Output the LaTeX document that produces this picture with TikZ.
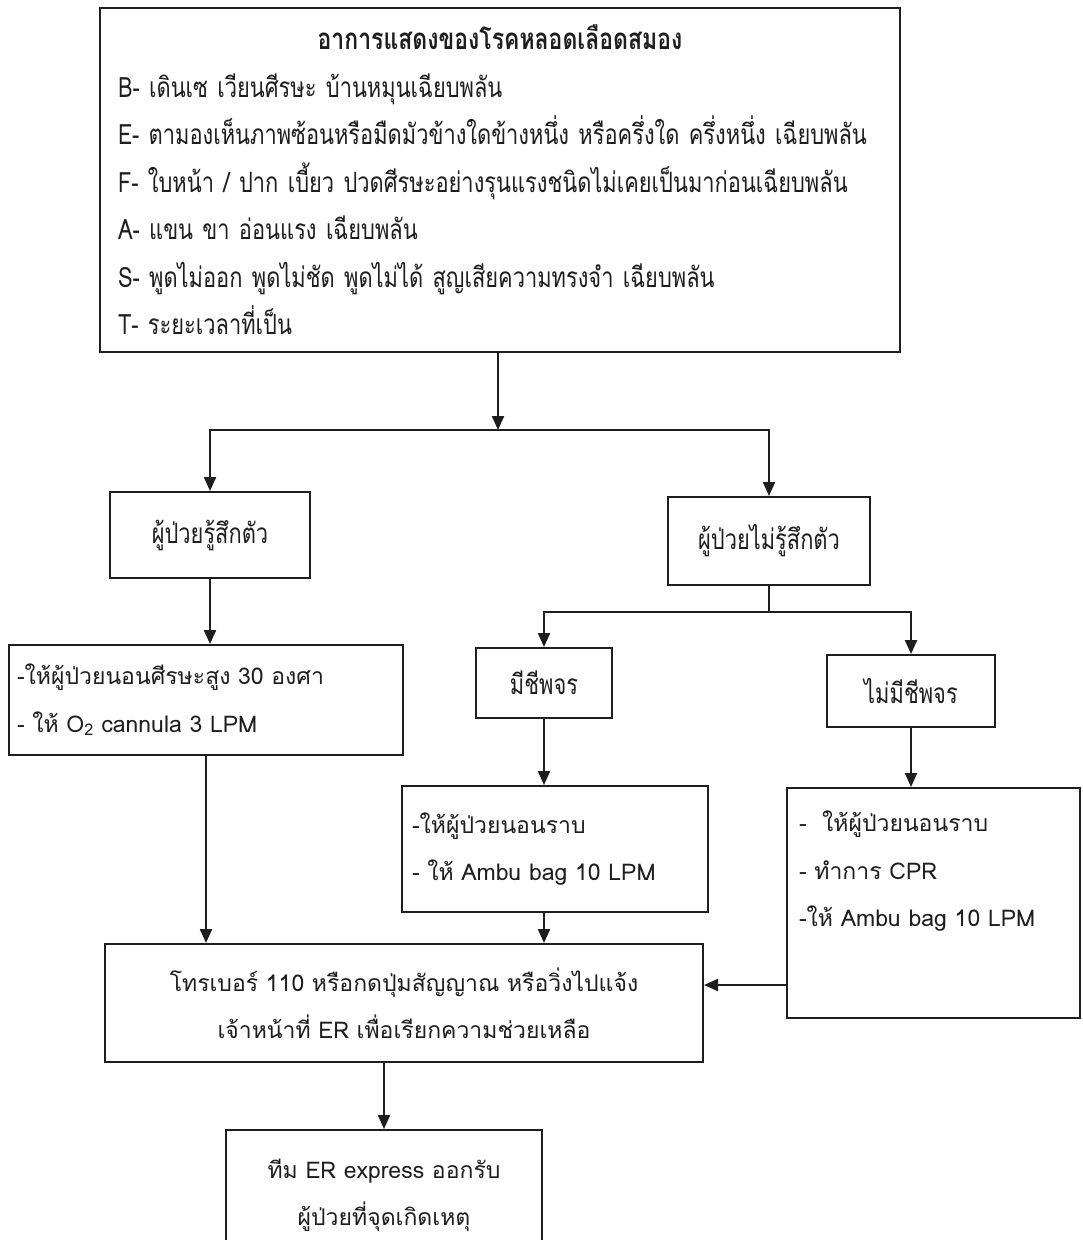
\documentclass[tikz,border=0pt]{standalone}
\usepackage{fontspec}
\usetikzlibrary{arrows.meta}
\newfontfamily\thc[Script=Thai,FakeStretch=0.78]{Loma}
\newfontfamily\thr[Script=Thai]{Loma}
\definecolor{ink}{HTML}{1E1E1E}
\tikzset{
  box/.style={draw=ink, line width=2pt, inner ysep=0pt, text=ink},
  arr/.style={draw=ink, line width=2.2pt, -{Triangle[length=14pt,width=12pt]}},
  ln/.style={draw=ink, line width=2.2pt},
  cond/.style={font=\thc\fontsize{28}{47.5}\selectfont},
  reg/.style={font=\thr\fontsize{23}{47.5}\selectfont}
}
\begin{document}
\begin{tikzpicture}[x=1pt,y=-1pt]
\clip (0,0) rectangle (1083,1240);
\fill[white] (0,0) rectangle (1083,1240);
% boxes
\node[box, cond, minimum width=800pt, minimum height=344pt, inner xsep=18pt, text width=764pt, align=left] (top) at (500,180)
 {\makebox[764pt]{\fontsize{29.5}{47.5}\selectfont\bfseries อาการแสดงของโรคหลอดเลือดสมอง}\\
  B- เดินเซ เวียนศีรษะ บ้านหมุนเฉียบพลัน\\
  E- ตามองเห็นภาพซ้อนหรือมืดมัวข้างใดข้างหนึ่ง หรือครึ่งใด ครึ่งหนึ่ง เฉียบพลัน\\
  F- ใบหน้า / ปาก เบี้ยว ปวดศีรษะอย่างรุนแรงชนิดไม่เคยเป็นมาก่อนเฉียบพลัน\\
  A- แขน ขา อ่อนแรง เฉียบพลัน\\
  S- พูดไม่ออก พูดไม่ชัด พูดไม่ได้ สูญเสียความทรงจำ เฉียบพลัน\\
  T- ระยะเวลาที่เป็น};
\node[box, cond, minimum width=200pt, minimum height=86pt] (cons) at (210,535) {ผู้ป่วยรู้สึกตัว};
\node[box, cond, minimum width=202pt, minimum height=88pt] (uncons) at (769,541) {ผู้ป่วยไม่รู้สึกตัว};
\node[box, reg, minimum width=394pt, minimum height=110pt, inner xsep=8pt, text width=378pt, align=left] (act1) at (206,700)
 {-ให้ผู้ป่วยนอนศีรษะสูง 30 องศา\\- ให้ O\textsubscript{2} cannula 3 LPM};
\node[box, cond, minimum width=136pt, minimum height=70pt] (pulse) at (544,683) {มีชีพจร};
\node[box, cond, minimum width=168pt, minimum height=72pt] (nopulse) at (911,691) {ไม่มีชีพจร};
\node[box, reg, minimum width=306pt, minimum height=126pt, inner xsep=10pt, text width=286pt, align=left] (act2) at (555,849)
 {-ให้ผู้ป่วยนอนราบ\\- ให้ Ambu bag 10 LPM};
\node[box, reg, minimum width=293pt, minimum height=230pt, inner xsep=12pt] (act3) at (933.5,903)
 {\parbox[c][184pt][t]{269pt}{\raggedright -~~ให้ผู้ป่วยนอนราบ\\- ทำการ CPR\\-ให้ Ambu bag 10 LPM}};
\node[box, reg, minimum width=598pt, minimum height=118pt, text width=578pt, align=center] (call) at (404,1003)
 {โทรเบอร์ 110 หรือกดปุ่มสัญญาณ หรือวิ่งไปแจ้ง\\เจ้าหน้าที่ ER เพื่อเรียกความช่วยเหลือ};
\node[box, reg, minimum width=316pt, minimum height=130pt, text width=296pt, align=center] (team) at (384,1195)
 {ทีม ER express ออกรับ\\ผู้ป่วยที่จุดเกิดเหตุ};
% junctions
\coordinate (j1) at (498,430);
\coordinate (j2) at (769,612);
\coordinate (m) at (745,985);
% connectors
\draw[arr] (top.south -| j1) -- (j1);
\draw[arr] (j1) -| (cons.north);
\draw[arr] (j1) -| (uncons.north);
\draw[arr] (cons.south) -- (cons.south |- act1.north);
\draw[ln] (uncons.south) -- (j2);
\draw[arr] (j2) -| (pulse.north);
\draw[arr] (j2) -| (nopulse.north);
\draw[arr] (pulse.south) -- (pulse.south |- act2.north);
\draw[arr] (nopulse.south) -- (nopulse.south |- act3.north);
\draw[arr] (pulse.south |- act2.south) -- (pulse.south |- call.north);
\draw[arr] (act1.south) -- (act1.south |- call.north);
\draw[arr] (act3.west |- m) -- (call.east |- m);
\draw[arr] (team.north |- call.south) -- (team.north);
\end{tikzpicture}
\end{document}
